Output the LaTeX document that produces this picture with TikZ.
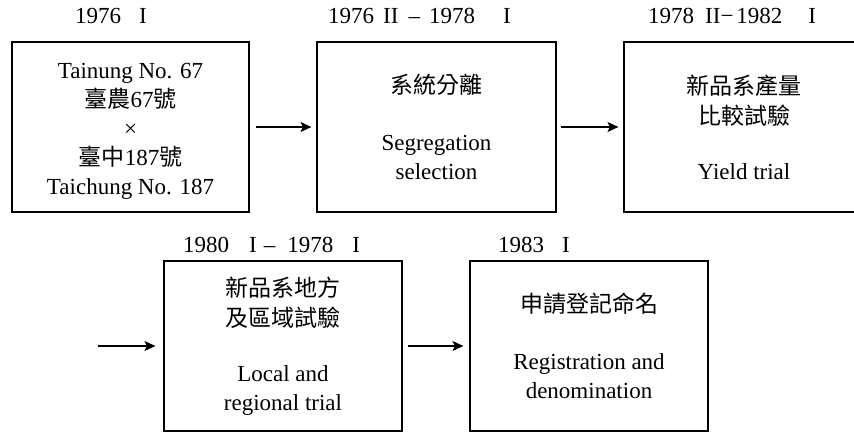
\documentclass[tikz,border=0pt]{standalone}
\usepackage{fontspec}
\setmainfont{Liberation Serif}
\newfontfamily\cjk{Noto Sans CJK TC}
\usetikzlibrary{arrows.meta}

\begin{document}
\begin{tikzpicture}[x=1pt,y=-1pt,
  stagebox/.style={draw,line width=1.1pt,minimum height=170pt,inner sep=0pt,align=center,
    font=\fontsize{23}{29}\selectfont},
  yearlabel/.style={anchor=base west,inner sep=0pt,font=\fontsize{23}{29}\selectfont},
  flow/.style={-{Stealth[length=11pt,width=10pt,inset=2.5pt]},line width=1.1pt}]
 \useasboundingbox (0,0) rectangle (854,432);

 \node[stagebox,minimum width=237pt] (cross) at (130.5,127)
   {\mbox{}\\[-5pt] Tainung No. 67\\ {\cjk 臺農}67{\cjk 號}\\ ×\\ {\cjk 臺中}187{\cjk 號}\\ Taichung No. 187};
 \node[stagebox,minimum width=239pt] (segreg) at (436.5,127)
   {{\cjk 系統分離}\\[28pt] Segregation\\ selection};
 \node[stagebox,minimum width=240pt] (yield) at (744,127)
   {{\cjk 新品系產量}\\[1pt] {\cjk 比較試驗}\\[26pt] Yield trial};
 \node[stagebox,minimum width=238pt] (local) at (283,346)
   {{\cjk 新品系地方}\\[1pt] {\cjk 及區域試驗}\\[26pt] Local and\\ regional trial};
 \node[stagebox,minimum width=238pt] (regist) at (589,346)
   {{\cjk 申請登記命名}\\[28pt] Registration and\\ denomination};

 \node[yearlabel] (y1) at (75,23) {1976\hspace{18pt}I};
 \node[yearlabel] (y2) at (328,23) {1976\hspace{9pt}II\hspace{10pt}–\hspace{9pt}1978\hspace{28pt}I};
 \node[yearlabel] (y3) at (648,23) {1978\hspace{11pt}II−\hspace{3pt}1982\hspace{26pt}I};
 \node[yearlabel] (y4) at (183,252) {1980\hspace{20pt}I\hspace{7pt}–\hspace{12pt}1978\hspace{19pt}I};
 \node[yearlabel] (y5) at (498,252) {1983\hspace{18pt}I};

 \coordinate (feed) at (98,346);
 \draw[flow,shorten <=6pt,shorten >=5pt] (cross.east) -- (segreg.west);
 \draw[flow,shorten <=4pt,shorten >=5pt] (segreg.east) -- (yield.west);
 \draw[flow,shorten >=8pt] (feed) -- (local.west);
 \draw[flow,shorten <=5pt,shorten >=6pt] (local.east) -- (regist.west);
\end{tikzpicture}
\end{document}
